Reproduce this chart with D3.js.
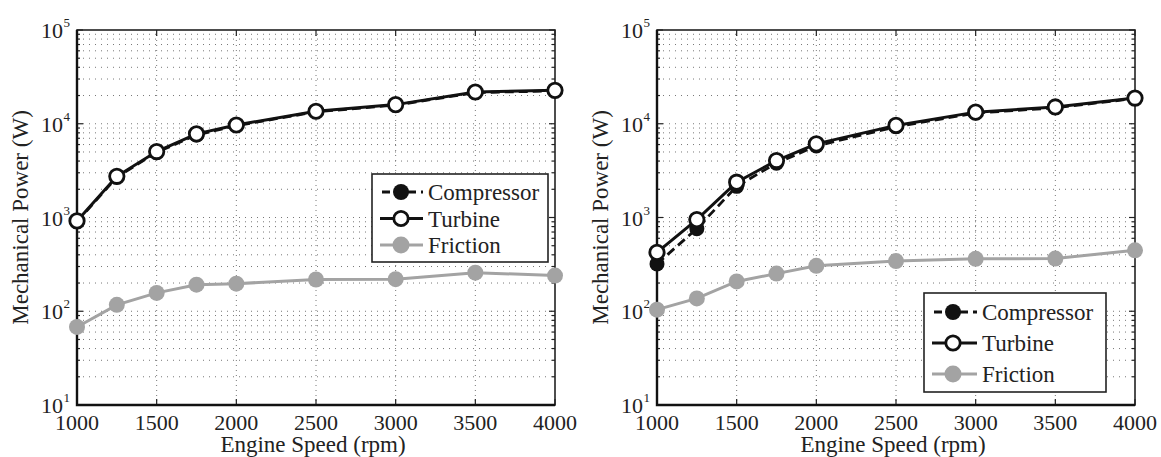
<!DOCTYPE html>
<html>
<head>
<meta charset="utf-8">
<script src="https://cdn.jsdelivr.net/npm/d3@7"></script>
<style>
  body { margin: 0; background: #fff; }
</style>
</head>
<body>
<svg id="chart" width="1161" height="457"></svg>
<script>
// engine speed (rpm)
var speeds = [1000, 1250, 1500, 1750, 2000, 2500, 3000, 3500, 4000];

// left panel (W)
var compressorA = [900, 2700, 4950, 7600, 9550, 13400, 15800, 21500, 22400];
var turbineA    = [920, 2750, 5050, 7800, 9700, 13600, 16000, 21800, 22700];
var frictionA   = [68, 117, 157, 192, 197, 218, 220, 258, 240];

// right panel (W)
var compressorB = [320, 760, 2150, 3800, 5800, 9300, 13000, 14800, 18600];
var turbineB    = [425, 950, 2380, 4050, 6100, 9600, 13300, 15100, 18800];
var frictionB   = [104, 137, 208, 252, 305, 343, 362, 365, 447];

var xTicks = [1000, 1500, 2000, 2500, 3000, 3500, 4000];
var yDecades = [1, 2, 3, 4, 5];
var seriesNames = ["Compressor", "Turbine", "Friction"];

var GREY = "#a3a3a3";
var FONT = "Liberation Serif";

var svg = d3.select("#chart");

function label(sel, size){
  return sel.append("text")
    .style("font-family", FONT)
    .attr("font-size", size)
    .attr("fill", "#222");
}

function drawPanel(left, comp, turb, fric, leg){
  var w = 478, h = 375, top = 30;
  var g = svg.append("g").attr("transform", "translate(" + left + "," + top + ")");

  var x = d3.scaleLinear().domain([1000, 4000]).range([0, w]);
  var y = d3.scaleLog().domain([10, 100000]).range([h, 0]);

  // horizontal grid at every log tick
  var logTicks = [];
  for (var d = 1; d < 5; d++) {
    for (var m = 1; m < 10; m++) logTicks.push(m * Math.pow(10, d));
  }
  logTicks.push(100000);

  g.selectAll("line.hgrid")
    .data(logTicks.filter(function(v){ return v > 10 && v < 100000; }))
    .enter().append("line")
      .attr("x1", 0).attr("x2", w)
      .attr("y1", function(v){ return y(v); })
      .attr("y2", function(v){ return y(v); })
      .attr("stroke", "#777").attr("stroke-width", 1)
      .attr("stroke-dasharray", "1,5");

  g.selectAll("line.vgrid")
    .data(xTicks.slice(1, -1))
    .enter().append("line")
      .attr("y1", 0).attr("y2", h)
      .attr("x1", function(v){ return x(v); })
      .attr("x2", function(v){ return x(v); })
      .attr("stroke", "#777").attr("stroke-width", 1)
      .attr("stroke-dasharray", "1,4");

  // ticks, inward on all four sides
  var ticks = g.append("g").attr("stroke", "#222").attr("stroke-width", 1.2);
  xTicks.forEach(function(v){
    ticks.append("line").attr("x1", x(v)).attr("x2", x(v)).attr("y1", h).attr("y2", h - 6);
    ticks.append("line").attr("x1", x(v)).attr("x2", x(v)).attr("y1", 0).attr("y2", 6);
  });
  logTicks.forEach(function(v){
    var major = Math.abs(Math.log10(v) % 1) < 1e-9;
    var len = major ? 6 : 3;
    ticks.append("line").attr("x1", 0).attr("x2", len).attr("y1", y(v)).attr("y2", y(v));
    ticks.append("line").attr("x1", w).attr("x2", w - len).attr("y1", y(v)).attr("y2", y(v));
  });

  // frame
  g.append("rect").attr("width", w).attr("height", h)
    .attr("fill", "none").attr("stroke", "#222").attr("stroke-width", 1.6);
  g.append("path")
    .attr("d", "M0,0V" + h + "H" + w)
    .attr("fill", "none").attr("stroke", "#111").attr("stroke-width", 2.4);

  // tick labels
  xTicks.forEach(function(v){
    label(g, 22)
      .attr("x", x(v)).attr("y", h + 25)
      .attr("text-anchor", "middle")
      .text(v);
  });

  yDecades.forEach(function(e){
    var yy = y(Math.pow(10, e));
    label(g, 22).attr("x", -14).attr("y", yy + 8)
      .attr("text-anchor", "end").text("10");
    label(g, 13).attr("x", -13.5).attr("y", yy - 3).text(e);
  });

  // axis labels
  label(g, 23)
    .attr("x", w / 2 - 3).attr("y", h + 47)
    .attr("text-anchor", "middle")
    .text("Engine Speed (rpm)");
  label(g, 23)
    .attr("transform", "translate(-49," + (h / 2) + ") rotate(-90)")
    .attr("text-anchor", "middle")
    .text("Mechanical Power (W)");

  var line = d3.line()
    .x(function(d){ return x(d[0]); })
    .y(function(d){ return y(d[1]); });

  var fricData = d3.zip(speeds, fric),
      compData = d3.zip(speeds, comp),
      turbData = d3.zip(speeds, turb);

  // friction
  g.append("path").datum(fricData).attr("d", line)
    .attr("fill", "none").attr("stroke", GREY).attr("stroke-width", 3);
  g.selectAll("circle.fric").data(fricData).enter().append("circle")
    .attr("cx", function(d){ return x(d[0]); })
    .attr("cy", function(d){ return y(d[1]); })
    .attr("r", 8).attr("fill", GREY);

  // compressor
  g.append("path").datum(compData).attr("d", line)
    .attr("fill", "none").attr("stroke", "#111").attr("stroke-width", 2.8)
    .attr("stroke-dasharray", "9,5");
  g.selectAll("circle.comp").data(compData).enter().append("circle")
    .attr("cx", function(d){ return x(d[0]); })
    .attr("cy", function(d){ return y(d[1]); })
    .attr("r", 7.5).attr("fill", "#111");

  // turbine
  g.append("path").datum(turbData).attr("d", line)
    .attr("fill", "none").attr("stroke", "#111").attr("stroke-width", 3);
  g.selectAll("circle.turb").data(turbData).enter().append("circle")
    .attr("cx", function(d){ return x(d[0]); })
    .attr("cy", function(d){ return y(d[1]); })
    .attr("r", 7.2).attr("fill", "#fff")
    .attr("stroke", "#111").attr("stroke-width", 2.8);

  // legend
  var lg = svg.append("g").attr("transform", "translate(" + leg.x + "," + leg.y + ")");
  lg.append("rect").attr("width", leg.w).attr("height", leg.h)
    .attr("fill", "#fff").attr("stroke", "#222").attr("stroke-width", 1.6);
  seriesNames.forEach(function(name, i){
    var ry = leg.row0 + i * leg.step;
    var ln = lg.append("line").attr("x1", 8).attr("x2", leg.lineEnd)
      .attr("y1", ry).attr("y2", ry).attr("stroke-width", 3);
    var c = lg.append("circle").attr("cx", leg.mark).attr("cy", ry);
    if (i === 0) {
      ln.attr("stroke", "#111").attr("stroke-dasharray", "8,5").attr("stroke-dashoffset", -2);
      c.attr("r", 8).attr("fill", "#111");
    } else if (i === 1) {
      ln.attr("stroke", "#111");
      c.attr("r", 7.2).attr("fill", "#fff").attr("stroke", "#111").attr("stroke-width", 2.8);
    } else {
      ln.attr("stroke", GREY);
      c.attr("r", 8.5).attr("fill", GREY);
    }
    label(lg, 23).attr("x", leg.text).attr("y", ry + 8).text(name);
  });
}

drawPanel(77, compressorA, turbineA, frictionA,
  {x: 372, y: 174, w: 176, h: 88, row0: 18, step: 26.5, lineEnd: 51, mark: 29, text: 56});
drawPanel(657, compressorB, turbineB, frictionB,
  {x: 924, y: 293, w: 182, h: 99, row0: 19, step: 31, lineEnd: 53, mark: 29, text: 58});
</script>
</body>
</html>
